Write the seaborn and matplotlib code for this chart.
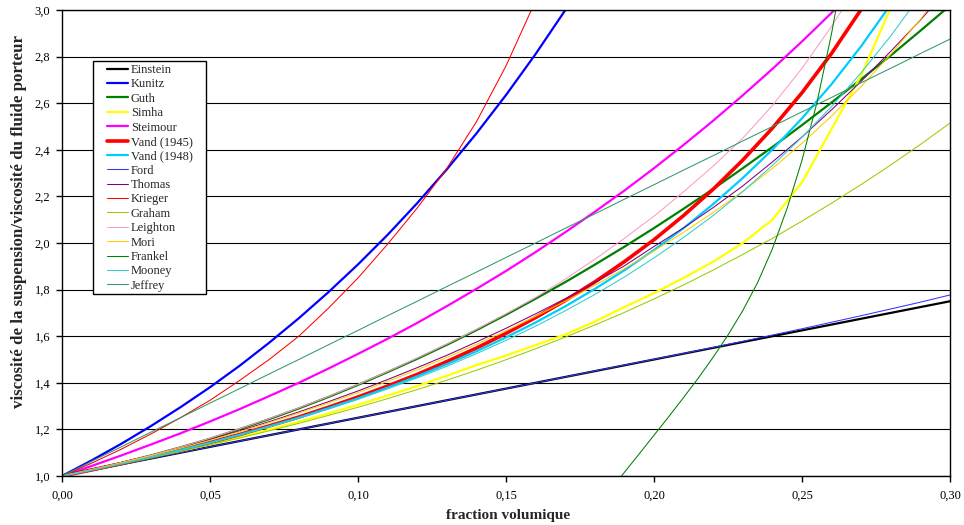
import matplotlib
matplotlib.use("Agg")
import matplotlib.pyplot as plt
from matplotlib.patches import Rectangle
import seaborn as sns

# volume fraction grid (step 0.01) and curves
phi = [0.00, 0.01, 0.02, 0.03, 0.04, 0.05, 0.06, 0.07, 0.08, 0.09,
       0.10, 0.11, 0.12, 0.13, 0.14, 0.15, 0.16, 0.17, 0.18, 0.19,
       0.20, 0.21, 0.22, 0.23, 0.24, 0.25, 0.26, 0.27, 0.28, 0.29, 0.30]

einstein = [1.000, 1.025, 1.050, 1.075, 1.100, 1.125, 1.150, 1.175, 1.200, 1.225,
            1.250, 1.275, 1.300, 1.325, 1.350, 1.375, 1.400, 1.425, 1.450, 1.475,
            1.500, 1.525, 1.550, 1.575, 1.600, 1.625, 1.650, 1.675, 1.700, 1.725, 1.750]
kunitz = [1.000, 1.067, 1.138, 1.214, 1.295, 1.381, 1.473, 1.572, 1.677, 1.789,
          1.908, 2.035, 2.171, 2.316, 2.470, 2.635, 2.811, 2.999, 3.199]
guth = [1.000, 1.026, 1.056, 1.088, 1.123, 1.160, 1.201, 1.244, 1.290, 1.339,
        1.391, 1.446, 1.503, 1.563, 1.626, 1.692, 1.761, 1.832, 1.907, 1.984,
        2.064, 2.147, 2.232, 2.321, 2.412, 2.506, 2.603, 2.703, 2.805, 2.911, 3.019]
simha = [1.000, 1.025, 1.052, 1.079, 1.107, 1.136, 1.167, 1.199, 1.233, 1.268,
         1.306, 1.345, 1.386, 1.430, 1.476, 1.517, 1.562, 1.607, 1.663, 1.725,
         1.785, 1.850, 1.920, 2.000, 2.100, 2.260, 2.490, 2.720, 3.010, 3.350]
steimour = [1.000, 1.043, 1.088, 1.135, 1.183, 1.234, 1.287, 1.343, 1.400, 1.461,
            1.524, 1.589, 1.657, 1.729, 1.803, 1.880, 1.961, 2.046, 2.134, 2.225,
            2.321, 2.421, 2.525, 2.634, 2.747, 2.865, 2.988, 3.117]
vand_1945 = [1.000, 1.026, 1.053, 1.082, 1.112, 1.144, 1.178, 1.215, 1.253, 1.295,
             1.339, 1.386, 1.436, 1.491, 1.549, 1.612, 1.680, 1.753, 1.833, 1.920,
             2.014, 2.118, 2.231, 2.356, 2.493, 2.645, 2.814, 3.003, 3.214]
vand_1948 = [1.000, 1.026, 1.053, 1.081, 1.111, 1.143, 1.177, 1.213, 1.250, 1.291,
             1.333, 1.379, 1.428, 1.480, 1.535, 1.595, 1.659, 1.728, 1.803, 1.883,
             1.970, 2.064, 2.167, 2.279, 2.401, 2.535, 2.682, 2.845, 3.024, 3.224]
ford = [1.000, 1.025, 1.050, 1.075, 1.100, 1.125, 1.150, 1.175, 1.200, 1.225,
        1.250, 1.275, 1.300, 1.325, 1.350, 1.375, 1.400, 1.425, 1.451, 1.476,
        1.501, 1.526, 1.552, 1.578, 1.605, 1.632, 1.660, 1.688, 1.717, 1.746, 1.777]
thomas = [1.003, 1.029, 1.058, 1.089, 1.121, 1.156, 1.194, 1.233, 1.275, 1.319,
          1.365, 1.414, 1.465, 1.518, 1.575, 1.634, 1.696, 1.761, 1.830, 1.902,
          1.985, 2.065, 2.152, 2.245, 2.348, 2.455, 2.572, 2.694, 2.823, 2.957, 3.100]
krieger = [1.000, 1.055, 1.115, 1.180, 1.250, 1.325, 1.410, 1.500, 1.600, 1.720,
           1.850, 1.995, 2.150, 2.320, 2.520, 2.760, 3.040, 3.360]
graham = [1.000, 1.025, 1.051, 1.078, 1.105, 1.134, 1.163, 1.194, 1.226, 1.260,
          1.295, 1.332, 1.371, 1.411, 1.454, 1.499, 1.546, 1.596, 1.648, 1.702,
          1.760, 1.820, 1.884, 1.951, 2.020, 2.094, 2.171, 2.251, 2.335, 2.423, 2.515]
leighton = [1.000, 1.027, 1.057, 1.089, 1.124, 1.162, 1.203, 1.246, 1.292, 1.341,
            1.393, 1.448, 1.506, 1.566, 1.629, 1.696, 1.766, 1.845, 1.930, 2.020,
            2.115, 2.220, 2.330, 2.450, 2.590, 2.750, 2.930, 3.130]
mori = [1.000, 1.028, 1.057, 1.087, 1.119, 1.153, 1.190, 1.229, 1.270, 1.313,
        1.358, 1.406, 1.456, 1.509, 1.565, 1.623, 1.685, 1.750, 1.818, 1.890,
        1.966, 2.046, 2.131, 2.222, 2.320, 2.428, 2.545, 2.672, 2.810, 2.960, 3.130]
frankel_phi = [0.189, 0.195, 0.200, 0.205, 0.210, 0.215, 0.220, 0.225,
               0.230, 0.235, 0.240, 0.245, 0.250, 0.255, 0.260, 0.265]
frankel = [1.000, 1.095, 1.175, 1.255, 1.337, 1.421, 1.510, 1.605,
           1.710, 1.830, 1.975, 2.150, 2.355, 2.600, 2.900, 3.250]
mooney = [1.000, 1.026, 1.053, 1.081, 1.111, 1.142, 1.176, 1.211, 1.248, 1.287,
          1.329, 1.374, 1.421, 1.471, 1.525, 1.582, 1.643, 1.709, 1.779, 1.854,
          1.936, 2.024, 2.118, 2.221, 2.333, 2.454, 2.586, 2.731, 2.889, 3.063]
jeffrey = [1.000, 1.063, 1.125, 1.188, 1.250, 1.313, 1.375, 1.438, 1.500, 1.563,
           1.625, 1.688, 1.750, 1.813, 1.875, 1.938, 2.000, 2.063, 2.125, 2.188,
           2.250, 2.313, 2.375, 2.438, 2.500, 2.563, 2.625, 2.688, 2.750, 2.813, 2.875]

x_ticks = [0.00, 0.05, 0.10, 0.15, 0.20, 0.25, 0.30]
x_tick_labels = ["0,00", "0,05", "0,10", "0,15", "0,20", "0,25", "0,30"]
y_ticks = [1.0, 1.2, 1.4, 1.6, 1.8, 2.0, 2.2, 2.4, 2.6, 2.8, 3.0]
y_tick_labels = ["1,0", "1,2", "1,4", "1,6", "1,8", "2,0", "2,2", "2,4", "2,6", "2,8", "3,0"]

sns.set_style("white")
plt.rcParams["font.family"] = ["Liberation Serif", "DejaVu Serif"]

W, H = 964, 525
fig = plt.figure(figsize=(W / 100, H / 100), dpi=100)
ax = fig.add_axes([62 / W, 49 / H, 888 / W, 466 / H])

# (label, x, y, colour, line width) in legend order
series = [
    ("Einstein", phi, einstein, "#000000", 1.6),
    ("Kunitz", phi, kunitz, "#0000FF", 1.6),
    ("Guth", phi, guth, "#008000", 1.6),
    ("Simha", phi, simha, "#FFFF00", 1.6),
    ("Steimour", phi, steimour, "#FF00FF", 1.6),
    ("Vand (1945)", phi, vand_1945, "#FF0000", 2.6),
    ("Vand (1948)", phi, vand_1948, "#00CCFF", 1.6),
    ("Ford", phi, ford, "#3333FF", 0.75),
    ("Thomas", phi, thomas, "#800080", 0.75),
    ("Krieger", phi, krieger, "#FF0000", 0.75),
    ("Graham", phi, graham, "#99CC00", 0.75),
    ("Leighton", phi, leighton, "#FF99CC", 0.75),
    ("Mori", phi, mori, "#FFCC00", 0.75),
    ("Frankel", frankel_phi, frankel, "#008000", 0.75),
    ("Mooney", phi, mooney, "#33CCCC", 0.75),
    ("Jeffrey", phi, jeffrey, "#339966", 0.75),
]

for name, xs, ys, color, lw in series:
    sns.lineplot(x=xs[:len(ys)], y=ys, ax=ax, color=color, linewidth=lw,
                 label=name, errorbar=None, sort=False)

ax.set_xlim(0, 0.30)
ax.set_ylim(1.0, 3.0)
ax.set_xticks(x_ticks)
ax.set_xticklabels(x_tick_labels)
ax.set_yticks(y_ticks)
ax.set_yticklabels(y_tick_labels)
ax.set_xlabel("")
ax.set_ylabel("")
ax.yaxis.grid(True, color="black", linewidth=0.8)
ax.xaxis.grid(False)
ax.set_axisbelow(True)
for sp in ax.spines.values():
    sp.set_color("black")
    sp.set_linewidth(1.0)
ax.tick_params(axis="both", which="major", bottom=True, left=True, direction="out",
               length=4, width=1, color="black", labelsize=9, labelcolor="black")
ax.tick_params(axis="y", pad=4.5)
ax.tick_params(axis="x", pad=6)

# legend box (Excel style, square frame with wide left margin)
ax.add_patch(Rectangle((93 / W, 1 - 294 / H), 113 / W, 233 / H, transform=fig.transFigure,
                       facecolor="white", edgecolor="black", linewidth=1.0, zorder=4.5))
ax.legend(loc="upper left", bbox_to_anchor=(107 / W, 1 - 64 / H),
          bbox_transform=fig.transFigure, borderaxespad=0, borderpad=0,
          fontsize=9, frameon=False, handlelength=1.68, handletextpad=0.22,
          labelspacing=0.19)

fig.text(508 / W, 1 - 515 / H, "fraction volumique", ha="center", va="center",
         fontsize=11, fontweight="bold")
fig.text(19 / W, 1 - 221 / H, "viscosité de la suspension/viscosité du fluide porteur",
         ha="center", va="center", rotation=90, fontsize=12.2, fontweight="bold")

fig.savefig("out.png", dpi=100)
